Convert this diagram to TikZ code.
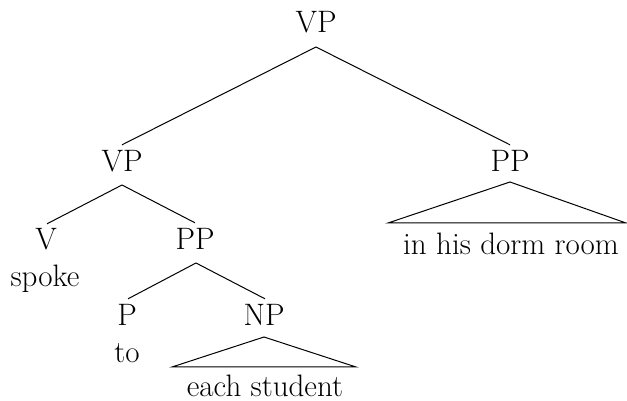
\documentclass[tikz,border=0pt]{standalone}
\begin{document}
\begin{tikzpicture}[x=1pt,y=1pt,
  lbl/.style={inner sep=0pt,outer sep=0pt,anchor=base,font=\fontsize{31}{36}\selectfont},
  edge/.style={line width=1pt,line join=miter}]
\useasboundingbox (0,0) rectangle (627,401);
% labels (y = 401 - baseline in pixels)
\node[lbl] (vp)    at (316,368) {VP};
\node[lbl] (vp1)   at (122,229) {VP};
\node[lbl] (pp1)   at (510,229) {PP};
\node[lbl] (v)     at (46,151)  {V};
\node[lbl] (pp2)   at (195,151) {PP};
\node[lbl] (spoke) at (45,114)  {spoke};
\node[lbl] (p)     at (127,75)  {P};
\node[lbl] (np)    at (264,75)  {NP};
\node[lbl] (to)    at (127,38)  {to};
\node[lbl] (each)  at (265,4)   {each student};
\node[lbl] (dorm)  at (511,146) {in his dorm room};
% branches
\coordinate (vpA) at (316,354);
\draw[edge] (vpA) -- ([yshift=6pt]vp1.north);
\draw[edge] (vpA) -- ([yshift=6pt]pp1.north);
\coordinate (vp1A) at (122,216);
\draw[edge] (vp1A) -- ([xshift=1pt,yshift=5pt]v.north);
\draw[edge] (vp1A) -- ([yshift=6pt]pp2.north);
\coordinate (pp2A) at (196,138);
\draw[edge] (pp2A) -- ([xshift=1pt,yshift=6pt]p.north);
\draw[edge] (pp2A) -- ([xshift=1pt,yshift=6pt]np.north);
% triangles
\coordinate (pp1A) at (510,219);
\coordinate (pp1L) at (388,178);
\coordinate (pp1R) at (626,178);
\draw[edge] (pp1L) -- (pp1A) -- (pp1R) -- cycle;
\coordinate (npA) at (264,64);
\coordinate (npL) at (172,34);
\coordinate (npR) at (356,34);
\draw[edge] (npL) -- (npA) -- (npR) -- cycle;
\end{tikzpicture}
\end{document}
